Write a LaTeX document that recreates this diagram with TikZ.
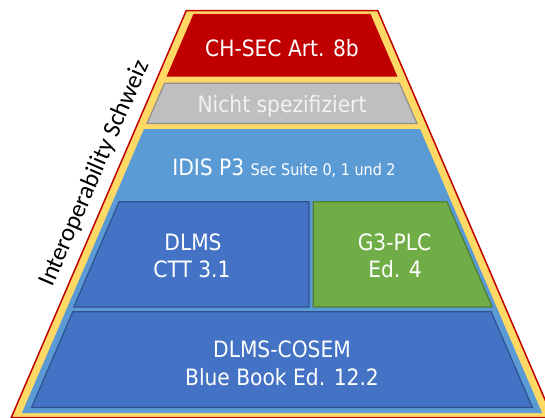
\documentclass[tikz,border=0pt]{standalone}
\usepackage{fontspec}
\setmainfont{DejaVu Sans Condensed}
\newfontfamily\sidefont{Carlito}

\definecolor{frameRed}{HTML}{C00000}
\definecolor{bandYellow}{HTML}{FFD966}
\definecolor{topRed}{HTML}{C00000}
\definecolor{layerGray}{HTML}{BFBFBF}
\definecolor{grayEdge}{HTML}{8F8F8F}
\definecolor{skyBlue}{HTML}{5B9BD5}
\definecolor{deepBlue}{HTML}{4472C4}
\definecolor{deepBlueEdge}{HTML}{2F528F}
\definecolor{leafGreen}{HTML}{70AD47}
\definecolor{leafGreenEdge}{HTML}{507E32}
\definecolor{paleText}{HTML}{F2F2F2}

\tikzset{
  frame/.style={fill=bandYellow, draw=frameRed, line width=1.5pt, line join=miter},
  layer/.style={line join=miter},
  bluebox/.style={fill=deepBlue, draw=deepBlueEdge, line width=1.2pt, line join=miter},
  greenbox/.style={fill=leafGreen, draw=leafGreenEdge, line width=1.2pt, line join=miter},
  lbl/.style={text=white, inner sep=0pt, anchor=base, font=\fontsize{22.5}{27}\selectfont},
}

\begin{document}
\begin{tikzpicture}[x=1pt, y=-1pt]
  \useasboundingbox (0,0) rectangle (545,417);
  \clip (0,0) rectangle (545,417);

  % outer pyramid with its yellow band
  \path[frame] (186.2,10.7) -- (377.8,10.7) -- (552.7,417.5) -- (11.3,417.5) -- cycle;

  % stacked layers
  \path[layer, fill=topRed] (193.5,14) -- (370.5,14) -- (397.5,76.7) -- (166.5,76.7) -- cycle;
  \path[layer, fill=layerGray, draw=grayEdge, line width=1.2pt]
    (164.6,83.3) -- (399.4,83.3) -- (417.0,123.4) -- (147.0,123.4) -- cycle;
  \path[layer, fill=skyBlue] (144,129) -- (420,129) -- (542.1,413) -- (21.9,413) -- cycle;

  % inner blocks
  \path[bluebox] (119.1,201.7) -- (309,201.7) -- (309,307) -- (73.8,307) -- cycle;
  \path[greenbox] (313.3,201.7) -- (446.9,201.7) -- (492.2,307) -- (313.3,307) -- cycle;
  \path[bluebox] (72.8,311.7) -- (491.2,311.7) -- (532.4,407.5) -- (31.6,407.5) -- cycle;

  % labels
  \node[lbl] (chsec) at (282,57) {CH-SEC Art. 8b};
  \node[lbl, text=paleText] (nspec) at (282,112) {Nicht spezifiziert};
  \node[lbl] (idis) at (284,175) {IDIS P3 {\fontsize{16}{19}\selectfont Sec Suite 0, 1 und 2}};
  \node[lbl] (dlmsA) at (193,250) {DLMS};
  \node[lbl] (dlmsB) at (192,277) {CTT 3.1};
  \node[lbl] (gplcA) at (394.5,250) {G3-PLC};
  \node[lbl] (gplcB) at (395,277) {Ed. 4};
  \node[lbl] (cosemA) at (282,357.5) {DLMS-COSEM};
  \node[lbl] (cosemB) at (282,385.5) {Blue Book Ed. 12.2};

  % side caption along the left flank
  \node[inner sep=0pt, anchor=base, rotate=66.7, font=\sidefont\fontsize{25}{29}\selectfont]
    (side) at (101,176) {Interoperability Schweiz};
\end{tikzpicture}
\end{document}
